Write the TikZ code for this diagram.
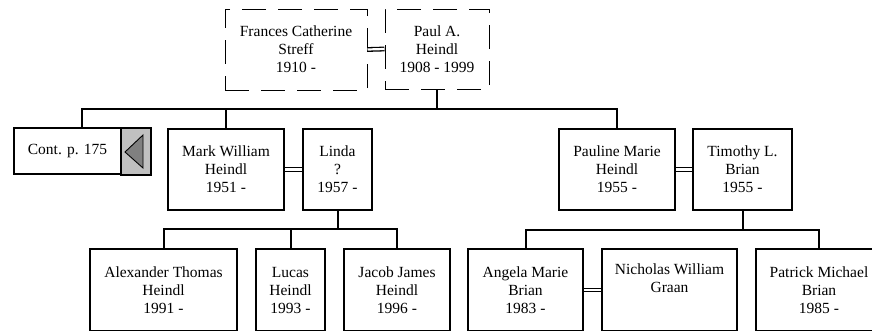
\documentclass[tikz,border=0pt]{standalone}
\usepackage{fontspec}
\setmainfont{Liberation Serif}
\definecolor{contgrey}{HTML}{C0C0C0}
\definecolor{trigrey}{HTML}{808080}
\begin{document}
\begin{tikzpicture}[x=1pt,y=-1pt,
  person/.style={draw, line width=2pt, fill=white, inner sep=0pt, align=center,
    font=\fontsize{15.5}{18}\selectfont},
  dperson/.style={person, line width=1pt, dash pattern=on 24pt off 12pt},
  link/.style={line width=2pt},
  marriage/.style={double, line width=1.3pt, double distance=2.2pt}]
\useasboundingbox (0,0) rectangle (872,330);
% grandparents
\node[dperson, minimum width=142pt, minimum height=81pt] (frances) at (296,49.5) {Frances Catherine\\Streff\\1910 -};
\node[dperson, minimum width=104pt, minimum height=80pt] (paul) at (437,49) {Paul A.\\Heindl\\1908 - 1999};
% children
\node[person, minimum width=136pt, minimum height=46pt] (cont) at (82,151) {\makebox[107pt][c]{Cont. p. 175}\hspace*{29pt}};
\node[person, minimum width=116pt, minimum height=81pt] (mark) at (226,169.5) {Mark William\\Heindl\\1951 -};
\node[person, minimum width=69pt, minimum height=81pt] (linda) at (337.5,169.5) {Linda\\?\\1957 -};
\node[person, minimum width=116pt, minimum height=81pt] (pauline) at (617,169.5) {Pauline Marie\\Heindl\\1955 -};
\node[person, minimum width=99pt, minimum height=81pt] (timothy) at (742.5,169.5) {Timothy L.\\Brian\\1955 -};
% grandchildren
\node[person, minimum width=147pt, minimum height=82pt] (alex) at (163.5,290) {Alexander Thomas\\Heindl\\1991 -};
\node[person, minimum width=69pt, minimum height=82pt] (lucas) at (290.5,290) {Lucas\\Heindl\\1993 -};
\node[person, minimum width=106pt, minimum height=82pt] (jacob) at (397,290) {Jacob James\\Heindl\\1996 -};
\node[person, minimum width=115pt, minimum height=82pt] (angela) at (525.5,290) {Angela Marie\\Brian\\1983 -};
\node[person, minimum width=135pt, minimum height=82pt] (nicholas) at (669.5,290) {Nicholas William\\Graan\\\strut};
\node[person, minimum width=126pt, minimum height=82pt] (patrick) at (819,290) {Patrick Michael\\Brian\\1985 -};
% continuation marker
\filldraw[fill=contgrey, line width=2pt] (121,128) rectangle (cont.south east);
\filldraw[fill=trigrey, line width=0.9pt] (125,152) -- (143,135) -- (143,168) -- cycle;
% connectors
\coordinate (bar1) at (437,109);
\coordinate (bar2) at (337.5,229);
\coordinate (bar3) at (742.5,230);
\draw[marriage] (frances.east) -- (paul.west);
\draw[link] (paul.south) -- (bar1);
\draw[link] (cont.north) |- (bar1) -| (pauline.north);
\draw[link] (mark.north) -- (mark.north |- bar1);
\draw[marriage] (mark.east) -- (linda.west);
\draw[marriage] (pauline.east) -- (timothy.west);
\draw[link] (linda.south) -- (bar2);
\draw[link] (alex.north) |- (bar2) -| (jacob.north);
\draw[link] (lucas.north) -- (lucas.north |- bar2);
\draw[link] (timothy.south) -- (bar3);
\draw[link] (angela.north) |- (bar3) -| (patrick.north);
\draw[marriage] (angela.east) -- (nicholas.west);
\end{tikzpicture}
\end{document}
